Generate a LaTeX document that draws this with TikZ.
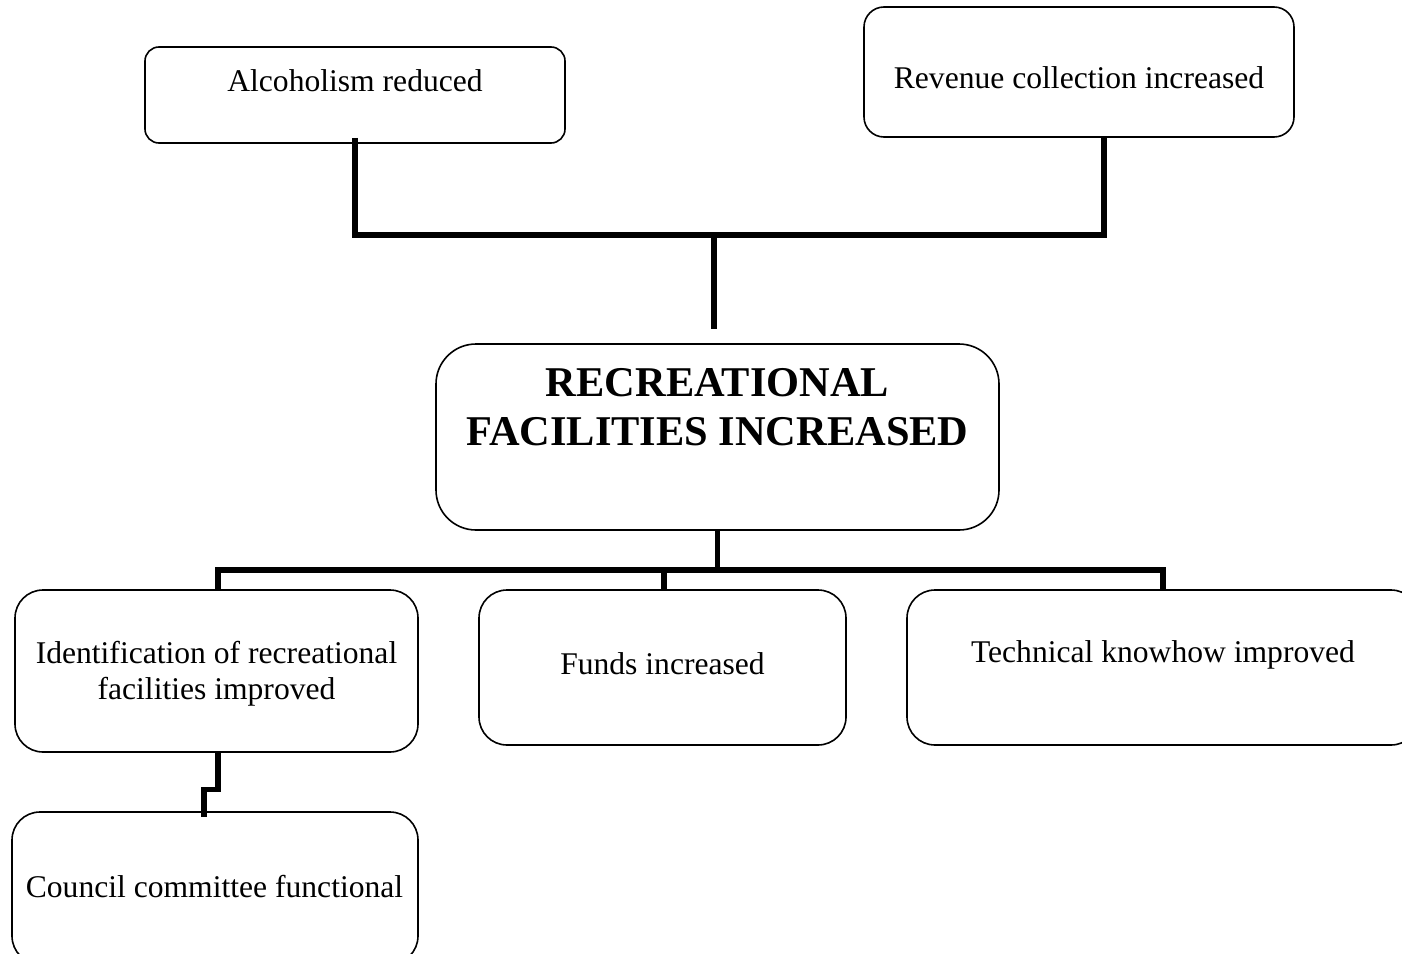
\documentclass[tikz,border=0pt]{standalone}
\usepackage{fontspec}
\setmainfont{Liberation Serif}
\usetikzlibrary{calc}
\begin{document}
\begin{tikzpicture}[x=0.5pt,y=-0.5pt,
  box/.style={draw,line width=0.8pt,inner sep=0pt},
  conn/.style={line width=2.6pt},
  lbl/.style={inner sep=0pt,align=center,font=\fontsize{15.8}{18}\selectfont},
  title/.style={inner sep=0pt,align=center,font=\fontsize{21.2}{24.5}\selectfont\bfseries}]
\useasboundingbox (0,0) rectangle (1402,953);
\clip (0,0) rectangle (1402,953);

% boxes
\node[box,rounded corners=7pt,minimum width=210pt,minimum height=48pt] (alc) at (355,95) {};
\node[box,rounded corners=10pt,minimum width=215pt,minimum height=65pt] (rev) at (1079,72) {};
\node[box,rounded corners=20pt,minimum width=281.5pt,minimum height=93pt] (cen) at (717.5,437) {};
\node[box,rounded corners=14pt,minimum width=201.5pt,minimum height=81pt] (ide) at (216.5,671) {};
\node[box,rounded corners=14pt,minimum width=183.5pt,minimum height=77.5pt] (fun) at (662.5,667.5) {};
\node[box,rounded corners=14pt,minimum width=256pt,minimum height=77.5pt] (tec) at (1163,667.5) {};
\node[box,rounded corners=14pt,minimum width=203pt,minimum height=76pt] (cou) at (215,888) {};

% labels
\node[lbl] (alct) at (355,81) {Alcoholism reduced};
\node[lbl] (revt) at (1079,78) {Revenue collection increased};
\node[title] (cent) at (717.5,407) {RECREATIONAL\\FACILITIES INCREASED};
\node[lbl] (idet) at (216.5,674) {Identification of recreational\\facilities improved};
\node[lbl] (funt) at (662.5,664) {Funds increased};
\node[lbl] (tect) at (1163,655) {Technical knowhow improved};
\node[lbl] (cout) at (214.5,887) {Council committee functional};

% upper connectors
\coordinate (tj) at (714,235);
\coordinate (te) at (714,329);
\draw[conn] ($(alc.south)+(0,-6)$) |- (tj) -| ($(rev.south)+(25,0)$);
\draw[conn] (tj) -- (te);

% lower connectors
\coordinate (bj) at (717.5,570);
\draw[conn] (cen.south) -- (bj);
\draw[conn] ($(ide.north)+(1.5,0)$) |- (bj) -| (tec.north);
\draw[conn] ($(fun.north)+(1.5,0)$) -- ($(fun.north |- bj)+(1.5,0)$);

% link to council box
\draw[conn] ($(ide.south)+(1.5,0)$) -- ++(0,37) -| ($(cou.north)+(-11,6)$);
\end{tikzpicture}
\end{document}
